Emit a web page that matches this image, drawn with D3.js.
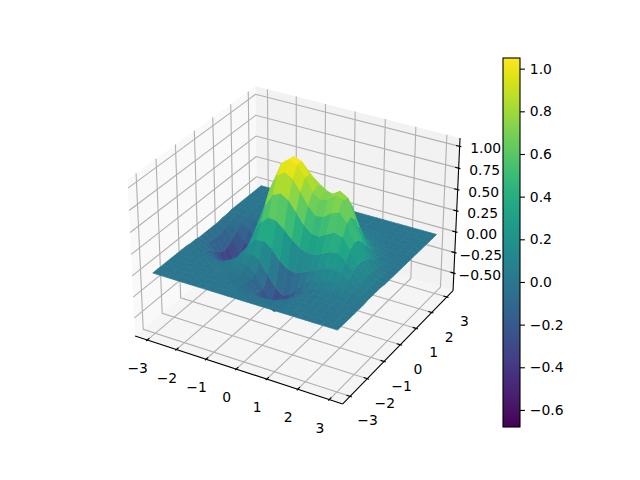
<!DOCTYPE html>
<html>
<head>
<meta charset="utf-8">
<script src="https://cdn.jsdelivr.net/npm/d3@7/dist/d3.min.js"></script>
<style>
body { margin: 0; background: #fff; }
text { font-family: "DejaVu Sans", sans-serif; font-size: 13.9px; fill: #000; }
</style>
</head>
<body>
<script>
// values
var xValues = [-3, -2.75, -2.5, -2.25, -2, -1.75, -1.5, -1.25, -1, -0.75, -0.5, -0.25, 0, 0.25, 0.5, 0.75, 1, 1.25, 1.5, 1.75, 2, 2.25, 2.5, 2.75, 3];
var yValues = xValues;
var zRows = [
    [0,0,0,0,0,0,0,0,0,0,0,0,0,0,0,0,0,0,0,0,0,0,0,0,0],
    [0,0,0,0,0,0,0,0,0,0,0,0,-.01,-.01,-.01,0,0,0,0,0,0,0,0,0,0],
    [0,0,0,0,0,0,0,0,0,0,-.01,-.02,-.03,-.03,-.03,-.02,-.01,0,0,0,0,0,0,0,0],
    [0,0,0,0,0,0,0,0,0,0,-.02,-.05,-.08,-.09,-.08,-.05,-.02,-.01,0,0,0,0,0,0,0],
    [0,0,0,0,0,0,.01,.01,.01,-.01,-.05,-.12,-.18,-.21,-.17,-.10,-.04,-.01,0,0,.01,.01,0,0,0],
    [0,0,0,0,0,0,.01,.02,.02,0,-.06,-.17,-.29,-.33,-.27,-.16,-.07,-.02,0,.01,.01,.01,.01,.01,0],
    [0,0,-.01,-.01,-.02,-.01,.01,.04,.05,.04,-.03,-.17,-.31,-.37,-.30,-.17,-.07,0,.02,.04,.04,.03,.02,.01,0],
    [0,-.01,-.02,-.04,-.05,-.05,-.01,.05,.11,.13,.08,-.04,-.17,-.24,-.20,-.11,-.02,.04,.07,.09,.09,.07,.04,.02,.01],
    [-.01,-.02,-.05,-.09,-.13,-.12,-.05,.06,.18,.26,.27,.21,.10,.03,.01,.04,.08,.12,.16,.18,.16,.11,.06,.02,.01],
    [-.01,-.03,-.09,-.18,-.26,-.26,-.14,.06,.26,.42,.50,.49,.42,.33,.26,.22,.22,.26,.31,.32,.25,.16,.07,.03,.01],
    [-.02,-.06,-.15,-.29,-.42,-.43,-.26,.03,.34,.58,.72,.76,.71,.60,.48,.40,.39,.44,.49,.46,.34,.19,.08,.03,.01],
    [-.02,-.08,-.20,-.39,-.57,-.60,-.38,0,.40,.71,.90,.96,.91,.79,.65,.56,.57,.64,.67,.57,.38,.19,.07,.02,0],
    [-.02,-.09,-.23,-.45,-.65,-.68,-.44,-.02,.43,.78,.99,1.05,1.02,.90,.76,.69,.72,.79,.77,.60,.36,.16,.06,.01,0],
    [-.02,-.08,-.21,-.42,-.61,-.64,-.40,.01,.44,.78,.98,1.05,1.02,.90,.79,.74,.74,.80,.75,.53,.29,.12,.04,.01,0],
    [-.02,-.06,-.17,-.33,-.48,-.49,-.30,.05,.41,.70,.88,.94,.91,.82,.75,.70,.68,.72,.62,.40,.20,.07,.02,0,0],
    [-.01,-.04,-.11,-.22,-.31,-.31,-.16,.09,.35,.57,.70,.76,.73,.68,.62,.58,.60,.59,.44,.26,.12,.04,.01,0,0],
    [-.01,-.02,-.06,-.12,-.17,-.16,-.06,.10,.27,.42,.51,.55,.54,.50,.48,.46,.46,.39,.27,.14,.06,.02,0,0,0],
    [0,-.01,-.03,-.05,-.07,-.06,0,.09,.19,.27,.33,.36,.35,.34,.33,.32,.29,.22,.14,.07,.03,.01,0,0,0],
    [0,0,-.01,-.02,-.02,-.01,.02,.06,.12,.16,.19,.20,.21,.20,.20,.18,.16,.11,.06,.03,.01,0,0,0,0],
    [0,0,0,-.01,-.01,0,.02,.04,.06,.09,.10,.11,.11,.11,.10,.09,.07,.05,.03,.01,0,0,0,0,0],
    [0,0,0,0,0,0,.01,.02,.03,.04,.05,.05,.05,.05,.05,.04,.03,.02,.01,0,0,0,0,0,0],
    [0,0,0,0,0,0,0,.01,.01,.02,.02,.02,.02,.02,.02,.01,.01,0,0,0,0,0,0,0,0],
    [0,0,0,0,0,0,0,0,0,0,.01,.01,.01,0,0,0,0,0,0,0,0,0,0,0,0],
    [0,0,0,0,0,0,0,0,0,0,0,0,0,0,0,0,0,0,0,0,0,0,0,0,0],
    [0,0,0,0,0,0,0,0,0,0,0,0,0,0,0,0,0,0,0,0,0,0,0,0,0]
];
var xTicks = [-3, -2, -1, 0, 1, 2, 3];
var yTicks = [-3, -2, -1, 0, 1, 2, 3];
var zTicks = [-0.5, -0.25, 0, 0.25, 0.5, 0.75, 1];
var colorTicks = [-0.6, -0.4, -0.2, 0, 0.2, 0.4, 0.6, 0.8, 1];
var colorLimits = [-0.68, 1.05];
var xLimits = [-3.42, 3.42];
var yLimits = [-3.42, 3.42];
var zLimits = [-0.717, 1.095];

function minus(s) { return s.replace("-", "\u2212"); }

var svg = d3.select("body").append("svg").attr("width", 640).attr("height", 480);

// box in view units, same proportions as a 4:4:3 mplot3d box
var xBox = d3.scaleLinear().domain(xLimits).range([-0.5953, 0.5953]);
var yBox = d3.scaleLinear().domain(yLimits).range([-0.5953, 0.5953]);
var zBox = d3.scaleLinear().domain(zLimits).range([-0.4465, 0.4465]);
var screenX = d3.scaleLinear().domain([0, 1]).range([297, 297 + 1998]);
var screenY = d3.scaleLinear().domain([0, 1]).range([237.4, 237.4 - 1998]);

function depth(x, y, z) {
    return 10 - (0.433 * xBox(x) - 0.75 * yBox(y) + 0.5 * zBox(z));
}
function project(x, y, z) {
    var a = xBox(x), b = yBox(y), c = zBox(z), d = depth(x, y, z);
    return [screenX((0.866 * a + 0.5 * b) / d), screenY((-0.25 * a + 0.433 * b + 0.866 * c) / d)];
}
var line = d3.line();

var x0 = xLimits[0], x1 = xLimits[1], y0 = yLimits[0], y1 = yLimits[1], z0 = zLimits[0], z1 = zLimits[1];

// panes
var panes = [
    { fill: "#f9f9f9", pts: [[x0, y0, z0], [x0, y1, z0], [x0, y1, z1], [x0, y0, z1]] },
    { fill: "#f2f2f2", pts: [[x0, y1, z0], [x1, y1, z0], [x1, y1, z1], [x0, y1, z1]] },
    { fill: "#f5f5f5", pts: [[x0, y0, z0], [x1, y0, z0], [x1, y1, z0], [x0, y1, z0]] }
];
svg.selectAll("path.pane").data(panes).enter().append("path").attr("class", "pane")
    .attr("d", function (p) { return line(p.pts.map(function (q) { return project(q[0], q[1], q[2]); })) + "Z"; })
    .attr("fill", function (p) { return p.fill; });

// grid
var gridLines = [];
xTicks.forEach(function (t) { gridLines.push([[t, y0, z0], [t, y1, z0], [t, y1, z1]]); });
yTicks.forEach(function (t) { gridLines.push([[x1, t, z0], [x0, t, z0], [x0, t, z1]]); });
zTicks.forEach(function (t) { gridLines.push([[x0, y0, t], [x0, y1, t], [x1, y1, t]]); });
svg.selectAll("path.grid").data(gridLines).enter().append("path").attr("class", "grid")
    .attr("d", function (g) { return line(g.map(function (q) { return project(q[0], q[1], q[2]); })); })
    .attr("fill", "none").attr("stroke", "#b0b0b0").attr("stroke-width", 1.1);

// axis lines
var axisLines = [
    [[x0, y0, z0], [x1, y0, z0]],
    [[x1, y0, z0], [x1, y1, z0]],
    [[x1, y1, z0], [x1, y1, z1]]
];
svg.selectAll("path.axisline").data(axisLines).enter().append("path").attr("class", "axisline")
    .attr("d", function (g) { return line(g.map(function (q) { return project(q[0], q[1], q[2]); })); })
    .attr("fill", "none").attr("stroke", "#000").attr("stroke-width", 1.1);

// ticks and labels
var tickIn = 0.114, tickOut = 0.057;
var tickLines = [];
xTicks.forEach(function (t) { tickLines.push([[t, y0 + tickIn, z0], [t, y0 - tickOut, z0]]); });
yTicks.forEach(function (t) { tickLines.push([[x1 - tickIn, t, z0], [x1 + tickOut, t, z0]]); });
zTicks.forEach(function (t) { tickLines.push([[x1 - tickIn, y1, t], [x1 + tickOut, y1, t]]); });
svg.selectAll("path.tick").data(tickLines).enter().append("path").attr("class", "tick")
    .attr("d", function (g) { return line(g.map(function (q) { return project(q[0], q[1], q[2]); })); })
    .attr("fill", "none").attr("stroke", "#000").attr("stroke-width", 1.1);

function tickLabels(ticks, where, dx, dy, fmt) {
    svg.append("g").selectAll("text").data(ticks).enter().append("text")
        .attr("x", function (t) { return where(t)[0] + dx; })
        .attr("y", function (t) { return where(t)[1] + dy; })
        .attr("dy", "0.36em").attr("text-anchor", "middle")
        .text(function (t) { return minus(fmt(t)); });
}
tickLabels(xTicks, function (t) { return project(t, y0, z0); }, -9.5, 28, d3.format("d"));
tickLabels(yTicks, function (t) { return project(x1, t, z0); }, 17.5, 24, d3.format("d"));
tickLabels(zTicks, function (t) { return project(x1, y1, t); }, 26, 2, d3.format(".2f"));

// surface, far cells first
var colorScale = d3.scaleSequential(d3.interpolateViridis).domain(colorLimits);
var cells = [];
d3.range(yValues.length - 1).forEach(function (j) {
    d3.range(xValues.length - 1).forEach(function (i) {
        var pts = [[i, j], [i + 1, j], [i + 1, j + 1], [i, j + 1]].map(function (k) {
            return [xValues[k[0]], yValues[k[1]], zRows[k[1]][k[0]]];
        });
        cells.push({
            pts: pts,
            z: d3.mean(pts, function (p) { return p[2]; }),
            d: d3.mean(pts, function (p) { return depth(p[0], p[1], p[2]); })
        });
    });
});
cells.sort(function (a, b) { return b.d - a.d; });
svg.append("g").selectAll("path").data(cells).enter().append("path")
    .attr("d", function (c) { return line(c.pts.map(function (q) { return project(q[0], q[1], q[2]); })) + "Z"; })
    .attr("fill", function (c) { return colorScale(c.z); })
    .attr("stroke", function (c) { return colorScale(c.z); })
    .attr("stroke-width", 0.7);

// colorbar
var barY = d3.scaleLinear().domain(colorLimits).range([427, 58]);
var gradient = svg.append("defs").append("linearGradient").attr("id", "viridis")
    .attr("x1", 0).attr("y1", 1).attr("x2", 0).attr("y2", 0);
gradient.selectAll("stop").data(d3.range(0, 1.001, 0.02)).enter().append("stop")
    .attr("offset", function (s) { return s; })
    .attr("stop-color", function (s) { return d3.interpolateViridis(s); });
svg.append("rect").attr("x", 503).attr("y", 58).attr("width", 17).attr("height", 369)
    .attr("fill", "url(#viridis)").attr("stroke", "#000").attr("stroke-width", 1.1);
var barAxis = d3.axisRight(barY).tickValues(colorTicks).tickSize(4.9).tickPadding(4.9)
    .tickFormat(function (t) { return minus(d3.format(".1f")(t)); });
var barG = svg.append("g").attr("transform", "translate(520,0)").call(barAxis);
barG.select(".domain").remove();
barG.selectAll("line").attr("stroke", "#000").attr("stroke-width", 1.1);
barG.selectAll("text").style("font-family", '"DejaVu Sans", sans-serif').style("font-size", "13.9px").attr("fill", "#000");
</script>
</body>
</html>
